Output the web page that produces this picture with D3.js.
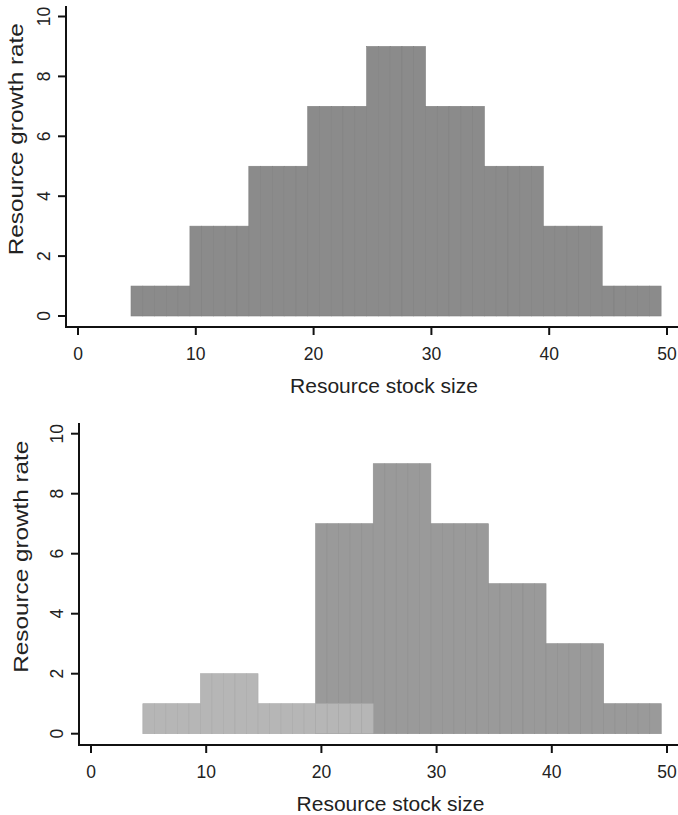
<!DOCTYPE html>
<html>
<head>
<meta charset="utf-8">
<script src="https://cdn.jsdelivr.net/npm/d3@7"></script>
<style>
  body { margin: 0; background: #fff; }
  text { font-family: "Liberation Sans", Arial, sans-serif; fill: #222; }
</style>
</head>
<body>
<div id="chart"></div>
<script>
// stock sizes (one bar each)
const stock = [5,6,7,8,9,10,11,12,13,14,15,16,17,18,19,20,21,22,23,24,25,26,27,28,29,
               30,31,32,33,34,35,36,37,38,39,40,41,42,43,44,45,46,47,48,49];
// top panel growth rate
const growthTop = [1,1,1,1,1, 3,3,3,3,3, 5,5,5,5,5, 7,7,7,7,7, 9,9,9,9,9,
                   7,7,7,7,7, 5,5,5,5,5, 3,3,3,3,3, 1,1,1,1,1];
// bottom panel: dark series (0 = no bar)
const growthDark = [0,0,0,0,0, 0,0,0,0,0, 0,0,0,0,0, 7,7,7,7,7, 9,9,9,9,9,
                    7,7,7,7,7, 5,5,5,5,5, 3,3,3,3,3, 1,1,1,1,1];
// bottom panel: light series
const growthLight = [1,1,1,1,1, 2,2,2,2,2, 1,1,1,1,1, 1,1,1,1,1, 0,0,0,0,0,
                     0,0,0,0,0, 0,0,0,0,0, 0,0,0,0,0, 0,0,0,0,0];
const xTicks = [0, 10, 20, 30, 40, 50];
const yTicks = [0, 2, 4, 6, 8, 10];

const W = 678, H = 815;
const svg = d3.select("#chart").append("svg")
  .attr("width", W).attr("height", H);

function panel(cfg) {
  const g = svg.append("g");
  const x = d3.scaleLinear().domain([0, 50]).range([cfg.x0, cfg.x1]);
  const y = d3.scaleLinear().domain([0, 10]).range([cfg.y0, cfg.y1]);

  cfg.series.forEach(s => {
    g.append("g").selectAll("rect")
      .data(stock.map((k, i) => ({k, v: s.values[i]})).filter(d => d.v > 0))
      .join("rect")
      .attr("x", d => x(d.k - 0.5))
      .attr("width", d => x(d.k + 0.5) - x(d.k - 0.5))
      .attr("y", d => y(d.v))
      .attr("height", d => y(0) - y(d.v))
      .attr("fill", s.fill)
      .attr("stroke", s.stroke)
      .attr("stroke-width", 0.6);
  });

  // axis lines
  g.append("line")
    .attr("x1", cfg.axX).attr("x2", cfg.axX)
    .attr("y1", cfg.axTop).attr("y2", cfg.axY)
    .attr("stroke", "#111").attr("stroke-width", 2);
  g.append("line")
    .attr("x1", cfg.axX - 1).attr("x2", W)
    .attr("y1", cfg.axY).attr("y2", cfg.axY)
    .attr("stroke", "#111").attr("stroke-width", 2);

  // x ticks
  const xa = g.append("g").selectAll("g").data(xTicks).join("g")
    .attr("transform", d => `translate(${x(d)},0)`);
  xa.append("line").attr("y1", cfg.axY).attr("y2", cfg.axY + 8)
    .attr("stroke", "#111").attr("stroke-width", 2);
  xa.append("text").attr("y", cfg.axY + 33).attr("text-anchor", "middle")
    .style("font-size", "17.5px").text(d => d);

  // y ticks
  const ya = g.append("g").selectAll("g").data(yTicks).join("g")
    .attr("transform", d => `translate(0,${y(d)})`);
  ya.append("line").attr("x1", cfg.axX - 8).attr("x2", cfg.axX)
    .attr("stroke", "#111").attr("stroke-width", 2);
  ya.append("text")
    .attr("transform", `translate(${cfg.axX - 16.5},0) rotate(-90)`)
    .attr("text-anchor", "middle")
    .style("font-size", "17.5px").text(d => d);

  g.append("text")
    .attr("x", (cfg.axX + W) / 2 + 12).attr("y", cfg.axY + 66)
    .attr("text-anchor", "middle").style("font-size", "21px")
    .text("Resource stock size");
  g.append("text")
    .attr("transform", `translate(${cfg.titleX},${(y(0) + y(10)) / 2 - 27}) rotate(-90)`)
    .attr("text-anchor", "middle").style("font-size", "21px")
    .attr("textLength", 232).attr("lengthAdjust", "spacingAndGlyphs")
    .text("Resource growth rate");
}

panel({
  x0: 78, x1: 667, y0: 316, y1: 16.5,
  axX: 66, axY: 327, axTop: 6, titleX: 23,
  series: [{values: growthTop, fill: "#8b8b8b", stroke: "#808080"}]
});

panel({
  x0: 91, x1: 667, y0: 733.7, y1: 433.7,
  axX: 79, axY: 745, axTop: 423, titleX: 28,
  series: [
    {values: growthDark, fill: "#9a9a9a", stroke: "#8e8e8e"},
    {values: growthLight, fill: "#b6b6b6", stroke: "#aaaaaa"}
  ]
});
</script>
</body>
</html>
